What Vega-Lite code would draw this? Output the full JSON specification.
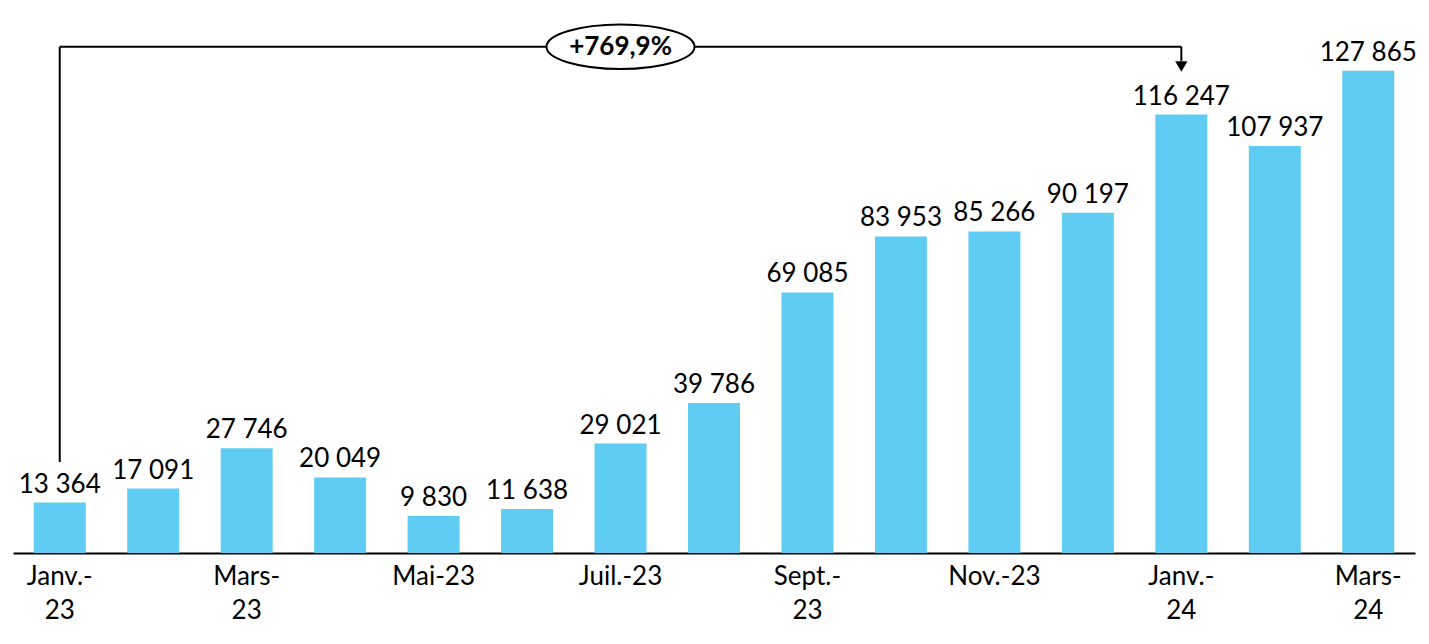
{
  "$schema": "https://vega.github.io/schema/vega-lite/v6.json",
  "width": 1402,
  "height": 528,
  "autosize": {"type": "none"},
  "padding": {"left": 13, "top": 25, "right": 14, "bottom": 91},
  "config": {
    "view": {"stroke": null},
    "font": "Lato",
    "axis": {"labelLineHeight": 34},
    "locale": {"number": {"decimal": ",", "thousands": " ", "grouping": [3], "currency": ["", " €"]}}
  },
  "datasets": {
    "ventes": [
      {"mois": "Janv.-23", "valeur": 13364},
      {"mois": "Févr.-23", "valeur": 17091},
      {"mois": "Mars-23", "valeur": 27746},
      {"mois": "Avr.-23", "valeur": 20049},
      {"mois": "Mai-23", "valeur": 9830},
      {"mois": "Juin-23", "valeur": 11638},
      {"mois": "Juil.-23", "valeur": 29021},
      {"mois": "Août-23", "valeur": 39786},
      {"mois": "Sept.-23", "valeur": 69085},
      {"mois": "Oct.-23", "valeur": 83953},
      {"mois": "Nov.-23", "valeur": 85266},
      {"mois": "Déc.-23", "valeur": 90197},
      {"mois": "Janv.-24", "valeur": 116247},
      {"mois": "Févr.-24", "valeur": 107937},
      {"mois": "Mars-24", "valeur": 127865}
    ],
    "annotation": [
      {"debut": "Janv.-23", "fin": "Janv.-24", "milieu": "Juil.-23", "haut": 134230, "bas": 24100, "pointe": 130500, "fleche": 129000, "texte": "+769,9%"}
    ]
  },
  "layer": [
    {
      "data": {"name": "ventes"},
      "encoding": {
        "x": {
          "field": "mois", "type": "nominal", "sort": null, "title": null,
          "scale": {
            "domain": ["Janv.-23", "Févr.-23", "Mars-23", "Avr.-23", "Mai-23", "Juin-23", "Juil.-23", "Août-23", "Sept.-23", "Oct.-23", "Nov.-23", "Déc.-23", "Janv.-24", "Févr.-24", "Mars-24"],
            "paddingInner": 0.444, "paddingOuter": 0.222
          },
          "axis": {
            "domainColor": "#000000", "domainWidth": 2, "ticks": false, "labelAngle": 0,
            "labelFontSize": 26, "labelColor": "#000000", "labelPadding": 10, "labelLineHeight": 34,
            "labelBaseline": "top",
            "labelExpr": "indexof(['Févr.-23','Avr.-23','Juin-23','Août-23','Oct.-23','Déc.-23','Févr.-24'], datum.value) >= 0 ? '' : (test(/^(Janv|Mars|Sept)/, datum.value) ? [slice(datum.value, 0, indexof(datum.value, '-') + 1), slice(datum.value, indexof(datum.value, '-') + 1)] : datum.value)"
          }
        },
        "y": {"field": "valeur", "type": "quantitative", "scale": {"domain": [0, 140000], "nice": false}, "axis": null}
      },
      "layer": [
        {"mark": {"type": "bar", "color": "#5ECCF3"}},
        {"mark": {"type": "text", "baseline": "alphabetic", "dy": -10, "fontSize": 26, "color": "#000000"},
         "encoding": {"text": {"field": "valeur", "type": "quantitative", "format": ",d"}}}
      ]
    },
    {
      "data": {"name": "annotation"},
      "layer": [
        {"mark": {"type": "rule", "color": "#000000", "strokeWidth": 2},
         "encoding": {"x": {"field": "debut", "type": "nominal"}, "y": {"field": "haut", "type": "quantitative"}, "y2": {"field": "bas"}}},
        {"mark": {"type": "rule", "color": "#000000", "strokeWidth": 2},
         "encoding": {"x": {"field": "debut", "type": "nominal", "bandPosition": 0.5}, "x2": {"field": "fin", "bandPosition": 0.5}, "y": {"field": "haut", "type": "quantitative"}}},
        {"mark": {"type": "rule", "color": "#000000", "strokeWidth": 2},
         "encoding": {"x": {"field": "fin", "type": "nominal"}, "y": {"field": "haut", "type": "quantitative"}, "y2": {"field": "pointe"}}},
        {"mark": {"type": "point", "shape": "triangle-down", "size": 150, "filled": true, "color": "#000000", "opacity": 1},
         "encoding": {"x": {"field": "fin", "type": "nominal"}, "y": {"field": "fleche", "type": "quantitative"}}},
        {"mark": {"type": "point", "shape": "M -1 0 A 1 0.3 0 1 1 1 0 A 1 0.3 0 1 1 -1 0 Z", "size": 21904, "filled": false, "fill": "#ffffff", "fillOpacity": 1, "stroke": "#000000", "strokeWidth": 2, "opacity": 1},
         "encoding": {"x": {"field": "milieu", "type": "nominal"}, "y": {"field": "haut", "type": "quantitative"}}},
        {"mark": {"type": "text", "fontSize": 26, "fontWeight": "bold", "color": "#000000", "baseline": "middle", "align": "center"},
         "encoding": {"x": {"field": "milieu", "type": "nominal"}, "y": {"field": "haut", "type": "quantitative"}, "text": {"field": "texte"}}}
      ]
    }
  ]
}
